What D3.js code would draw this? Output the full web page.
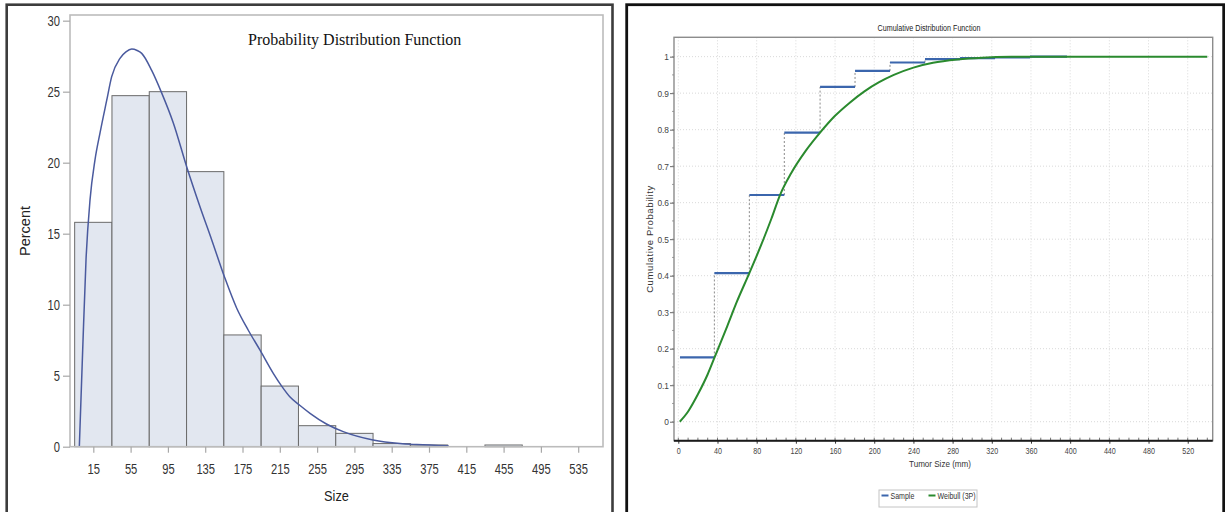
<!DOCTYPE html>
<html>
<head>
<meta charset="utf-8">
<script src="https://cdn.jsdelivr.net/npm/d3@7/dist/d3.min.js"></script>
<style>
  html, body { margin: 0; padding: 0; background: #fff; }
  svg { display: block; }
  text { font-family: "Liberation Sans", Arial, sans-serif; }
  text.serif { font-family: "Liberation Serif", "Times New Roman", serif; }
</style>
</head>
<body>
<svg id="chart" width="1225" height="512"></svg>
<script>
// ---- Histogram of sizes (percent per 40-wide bin, labelled by bin midpoint)
const binMids = [15, 55, 95, 135, 175, 215, 255, 295, 335, 375, 415, 455, 495, 535];
const binPercent = [15.8, 24.72, 25.0, 19.37, 7.87, 4.27, 1.48, 0.94, 0.22, 0.12, 0, 0.12, 0, 0];
const binWidth = 40;

// ---- Fitted density curve (percent scale)
const pdfX = [0, 3.6, 7.2, 11.5, 16.8, 22.2, 29.4, 34.7, 43.6, 50, 56.2, 62, 66.9, 77.6, 88.4, 100.8, 115.2, 129.4, 142, 156.2, 168.8, 181.2, 193.8, 208, 217, 226, 236.7, 247.4, 265, 283, 315, 344, 362, 396];
const pdfY = [0, 6.8, 13.2, 17.4, 20.2, 22.1, 24.4, 26.06, 27.35, 27.8, 28.0, 27.9, 27.7, 26.5, 24.9, 22.8, 19.7, 16.9, 14.56, 11.86, 9.75, 8.2, 6.8, 5.17, 4.27, 3.5, 2.9, 2.35, 1.6, 1.06, 0.47, 0.22, 0.15, 0.06];

// ---- Tick labels, left chart
const pdfXTicks = [15, 55, 95, 135, 175, 215, 255, 295, 335, 375, 415, 455, 495, 535];
const pdfYTicks = [0, 5, 10, 15, 20, 25, 30];

// ---- Empirical CDF (step breakpoints and levels)
const stepX = [1.7, 36.8, 72.5, 108.2, 144.7, 180.4, 216.1, 251.8, 287.6, 323.3, 359, 396.8];
const stepY = [0.176, 0.407, 0.621, 0.792, 0.917, 0.961, 0.984, 0.993, 0.996, 0.998, 1.0];

// ---- Weibull (3P) CDF
const weibullX = [1.5, 10, 20, 30, 37, 50, 60, 72.5, 85, 95, 103.8, 115, 130, 144.7, 160, 175, 190, 205, 220, 240, 260, 285, 310, 340, 380, 540];
const weibullY = [0, 0.028, 0.075, 0.13, 0.176, 0.262, 0.33, 0.407, 0.487, 0.556, 0.621, 0.68, 0.742, 0.792, 0.838, 0.874, 0.905, 0.93, 0.95, 0.97, 0.983, 0.992, 0.997, 0.9995, 1, 1];

// ---- Tick labels, right chart
const cdfXTicks = [0, 40, 80, 120, 160, 200, 240, 280, 320, 360, 400, 440, 480, 520];
const cdfYTicks = [0, 0.1, 0.2, 0.3, 0.4, 0.5, 0.6, 0.7, 0.8, 0.9, 1];

const svg = d3.select("#chart");

// squeeze text horizontally to imitate a narrow face
function condense(sel, k) {
  sel.each(function () {
    const t = d3.select(this);
    const x = +t.attr("x") || 0;
    t.attr("x", x / k).attr("transform", `scale(${k},1)`);
  });
}

/* ================= Left panel: histogram + density ================= */
const L = { left: 70, right: 603, top: 15, bottom: 446.7 };
svg.append("rect").attr("x", 6.7).attr("y", 4.7).attr("width", 605.8).attr("height", 520)
  .attr("fill", "none").attr("stroke", "#3c3c3c").attr("stroke-width", 2.6);

const xL = d3.scaleLinear().domain([-10, 561.6]).range([L.left, L.right]);
const yL = d3.scaleLinear().domain([0, 30.4]).range([L.bottom, L.top]);

const gL = svg.append("g");
gL.selectAll("rect.bar").data(binMids.map((m, i) => ({ m, v: binPercent[i] })).filter(d => d.v > 0))
  .join("rect").attr("class", "bar")
  .attr("x", d => xL(d.m - binWidth / 2))
  .attr("width", d => xL(d.m + binWidth / 2) - xL(d.m - binWidth / 2))
  .attr("y", d => yL(d.v))
  .attr("height", d => yL(0) - yL(d.v))
  .attr("fill", "#e2e7f0").attr("stroke", "#6a6a6a").attr("stroke-width", 1);

const pdfLine = d3.line().x((d, i) => xL(pdfX[i])).y((d, i) => yL(pdfY[i])).curve(d3.curveMonotoneX);
gL.append("path").attr("d", pdfLine(pdfX)).attr("fill", "none")
  .attr("stroke", "#4a5a9e").attr("stroke-width", 1.5);

gL.append("rect").attr("x", L.left).attr("y", L.top)
  .attr("width", L.right - L.left).attr("height", L.bottom - L.top)
  .attr("fill", "none").attr("stroke", "#bcbcbc").attr("stroke-width", 1.6);

const axL = gL.append("g").attr("transform", `translate(${L.left},0)`)
  .call(d3.axisLeft(yL).tickValues(pdfYTicks).tickSize(7).tickPadding(3).tickFormat(d3.format("d")));
const axB = gL.append("g").attr("transform", `translate(0,${L.bottom})`)
  .call(d3.axisBottom(xL).tickValues(pdfXTicks).tickSize(6).tickPadding(11).tickFormat(d3.format("d")));
[axL, axB].forEach(a => {
  a.select(".domain").remove();
  a.selectAll(".tick line").attr("stroke", "#a8a8a8").attr("stroke-width", 1.2);
  a.selectAll(".tick text").attr("font-size", 14).attr("fill", "#333").call(condense, 0.8);
});

gL.append("text").attr("font-size", 14.5).attr("fill", "#222")
  .attr("text-anchor", "middle").attr("transform", "translate(30,231) rotate(-90)").text("Percent");
gL.append("text").attr("font-size", 14.5).attr("fill", "#222")
  .attr("text-anchor", "middle").attr("x", 336.5).attr("y", 501).text("Size").call(condense, 0.88);
gL.append("text").attr("class", "serif")
  .attr("font-size", 16).attr("fill", "#111").attr("x", 248).attr("y", 45)
  .text("Probability Distribution Function");

/* ================= Right panel: cumulative distribution ================= */
const R = { left: 674, right: 1212.7, top: 37.3, bottom: 440.7 };
svg.append("rect").attr("x", 626.7).attr("y", 4.7).attr("width", 597).attr("height", 520)
  .attr("fill", "none").attr("stroke", "#111").attr("stroke-width", 2.8);

const xR = d3.scaleLinear().domain([-4.4, 545.5]).range([R.left, R.right]);
const yR = d3.scaleLinear().domain([-0.052, 1.053]).range([R.bottom, R.top]);
const gR = svg.append("g");

// light dotted grid
gR.selectAll("line.vgrid").data(cdfXTicks).join("line").attr("class", "vgrid")
  .attr("x1", d => xR(d)).attr("x2", d => xR(d)).attr("y1", R.top).attr("y2", R.bottom)
  .attr("stroke", "#d9d9d9").attr("stroke-dasharray", "1,2");
gR.selectAll("line.hgrid").data(cdfYTicks).join("line").attr("class", "hgrid")
  .attr("y1", d => yR(d)).attr("y2", d => yR(d)).attr("x1", R.left).attr("x2", R.right)
  .attr("stroke", "#d9d9d9").attr("stroke-dasharray", "1,2");

gR.append("rect").attr("x", R.left).attr("y", R.top)
  .attr("width", R.right - R.left).attr("height", R.bottom - R.top)
  .attr("fill", "none").attr("stroke", "#8c8c8c").attr("stroke-width", 1.4);

// sample step function
const steps = stepY.map((v, i) => ({ x0: stepX[i], x1: stepX[i + 1], y: v, prev: i > 0 ? stepY[i - 1] : null }));
gR.selectAll("line.riser").data(steps.filter(d => d.prev !== null)).join("line").attr("class", "riser")
  .attr("x1", d => xR(d.x0)).attr("x2", d => xR(d.x0))
  .attr("y1", d => yR(d.prev)).attr("y2", d => yR(d.y))
  .attr("stroke", "#8a8a8a").attr("stroke-width", 1).attr("stroke-dasharray", "2,2");
gR.selectAll("line.tread").data(steps).join("line").attr("class", "tread")
  .attr("x1", d => xR(d.x0)).attr("x2", d => xR(d.x1))
  .attr("y1", d => yR(d.y)).attr("y2", d => yR(d.y))
  .attr("stroke", "#3b66ad").attr("stroke-width", 2.2);

// Weibull fit
const cdfLine = d3.line().x((d, i) => xR(weibullX[i])).y((d, i) => yR(weibullY[i])).curve(d3.curveMonotoneX);
gR.append("path").attr("d", cdfLine(weibullX)).attr("fill", "none")
  .attr("stroke", "#2a8a2e").attr("stroke-width", 2);

// bottom axis: heavy baseline with minor ticks above
const axRB = gR.append("g").attr("transform", `translate(0,${R.bottom})`)
  .call(d3.axisBottom(xR).tickValues(cdfXTicks).tickSize(3).tickPadding(4).tickFormat(d3.format("d")));
axRB.select(".domain").remove();
axRB.selectAll(".tick line").attr("stroke", "#333");
axRB.selectAll(".tick text").attr("font-size", 9.5).attr("fill", "#444").call(condense, 0.75);
const minorX = xR.ticks(55).filter(v => v >= 0 && v <= 540);
gR.selectAll("line.minorx").data(minorX).join("line").attr("class", "minorx")
  .attr("x1", d => xR(d)).attr("x2", d => xR(d)).attr("y1", R.bottom).attr("y2", R.bottom - 3)
  .attr("stroke", "#555").attr("stroke-width", 0.8);
gR.append("line").attr("x1", R.left).attr("x2", R.right).attr("y1", R.bottom).attr("y2", R.bottom)
  .attr("stroke", "#1a1a1a").attr("stroke-width", 2);

const axRL = gR.append("g").attr("transform", `translate(${R.left},0)`)
  .call(d3.axisLeft(yR).tickValues(cdfYTicks).tickSize(4).tickPadding(1).tickFormat(d => d === 0 ? "0" : d === 1 ? "1" : d3.format(".1f")(d)));
axRL.select(".domain").remove();
axRL.selectAll(".tick line").attr("stroke", "#666");
axRL.selectAll(".tick text").attr("font-size", 9.5).attr("fill", "#444").call(condense, 0.88);
const minorY = yR.ticks(22).filter(v => v >= 0 && v <= 1);
gR.selectAll("line.minory").data(minorY).join("line").attr("class", "minory")
  .attr("x1", R.left - 2).attr("x2", R.left).attr("y1", d => yR(d)).attr("y2", d => yR(d))
  .attr("stroke", "#888").attr("stroke-width", 0.8);

gR.append("text").attr("font-size", 9.3).attr("fill", "#222")
  .attr("text-anchor", "middle").attr("x", 929).attr("y", 31).text("Cumulative Distribution Function")
  .call(condense, 0.77);
gR.append("text").attr("font-size", 9.5).attr("fill", "#333")
  .attr("text-anchor", "middle").attr("x", 940).attr("y", 467).text("Tumor Size (mm)")
  .call(condense, 0.85);
gR.append("text").attr("font-size", 9.5).attr("fill", "#333")
  .attr("text-anchor", "middle").attr("transform", `translate(653,${(R.top + R.bottom) / 2}) rotate(-90)`)
  .attr("letter-spacing", 0.6).text("Cumulative Probability");

// legend
const legend = gR.append("g");
legend.append("rect").attr("x", 879).attr("y", 490).attr("width", 98).attr("height", 17)
  .attr("fill", "#fff").attr("stroke", "#c4c4c4");
const legendItems = [
  { label: "Sample", color: "#3b66ad", x: 881.5 },
  { label: "Weibull (3P)", color: "#2a8a2e", x: 928.5 }
];
legend.selectAll("line.key").data(legendItems).join("line").attr("class", "key")
  .attr("x1", d => d.x).attr("x2", d => d.x + 7).attr("y1", 495.5).attr("y2", 495.5)
  .attr("stroke", d => d.color).attr("stroke-width", 2);
legend.selectAll("text.key").data(legendItems).join("text").attr("class", "key")
  .attr("x", d => d.x + 9).attr("y", 499).attr("font-size", 9).attr("fill", "#333")
  .text(d => d.label).call(condense, 0.78);
</script>
</body>
</html>
